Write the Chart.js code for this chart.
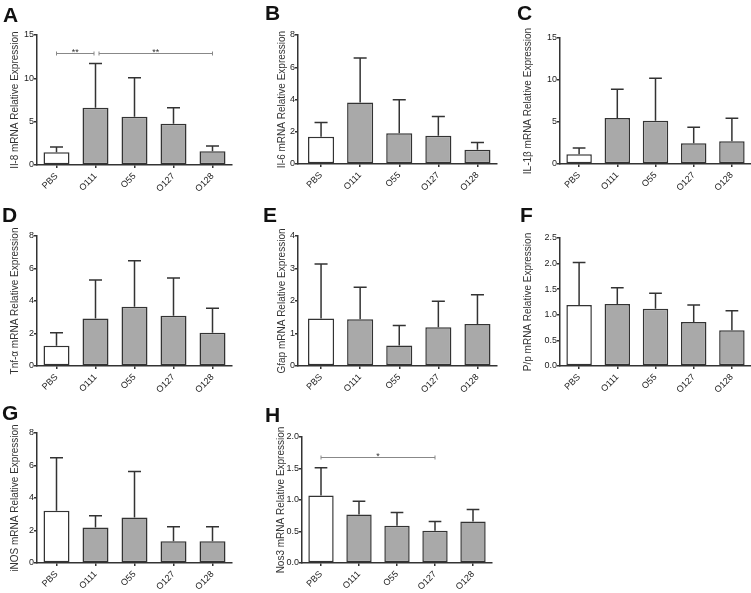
<!DOCTYPE html>
<html>
<head>
<meta charset="utf-8">
<script src="https://cdn.jsdelivr.net/npm/chart.js@4/dist/chart.umd.min.js"></script>
<style>
  body { margin: 0; width: 751px; height: 593px; background: #fff; position: relative; overflow: hidden; }
  canvas { position: absolute; }
  .letter { position: absolute; font: bold 21px "Liberation Sans", Arial, sans-serif; line-height: 21px; color: #111; }
</style>
</head>
<body>
<div id="wrap"></div>
<script>
// groups on the x axis
const groups = ['PBS', 'O111', 'O55', 'O127', 'O128'];

// mean and SD for each gene
const il8Mean = [1.46, 6.6, 5.58, 4.77, 1.6];
const il8Sd = [0.62, 5.1, 4.5, 1.83, 0.6];
const il6Mean = [1.69, 3.81, 1.9, 1.75, 0.89];
const il6Sd = [0.89, 2.77, 2.08, 1.2, 0.45];
const il1bMean = [1.15, 5.48, 5.16, 2.46, 2.7];
const il1bSd = [0.75, 3.42, 5.04, 1.91, 2.74];
const tnfMean = [1.25, 2.93, 3.65, 3.1, 2.05];
const tnfSd = [0.8, 2.36, 2.83, 2.32, 1.5];
const gfapMean = [1.46, 1.44, 0.63, 1.19, 1.29];
const gfapSd = [1.68, 0.98, 0.62, 0.8, 0.9];
const plpMean = [1.19, 1.21, 1.12, 0.86, 0.7];
const plpSd = [0.83, 0.32, 0.3, 0.33, 0.38];
const inosMean = [3.22, 2.19, 2.8, 1.34, 1.34];
const inosSd = [3.25, 0.72, 2.83, 0.89, 0.89];
const nos3Mean = [1.07, 0.77, 0.59, 0.51, 0.66];
const nos3Sd = [0.44, 0.21, 0.21, 0.15, 0.19];

// significance brackets: group index pairs, height, stars
const il8Sig = [[0, 1, 12.9, '**'], [1, 4, 12.9, '**']];
const nos3Sig = [[0, 3, 1.68, '*']];

Chart.defaults.font.family = '"Liberation Sans", Arial, sans-serif';
Chart.defaults.font.size = 9;

// panel layout (page pixels)
const panels = [
  { letter: 'A', lx: 3, ly: 4, left: 0, top: 0, w: 250, h: 200, titleX: 15, axisX: 37, plotTop: 35, plotBottom: 165, plotRight: 232, gap: 0,
    max: 15, step: 5, dec: 0, title: 'Il-8 mRNA Relative Expression', mean: il8Mean, sd: il8Sd, sig: il8Sig },
  { letter: 'B', lx: 265, ly: 2, left: 250, top: 0, w: 250, h: 200, titleX: 282, axisX: 298, plotTop: 35, plotBottom: 164, plotRight: 497, gap: 3.5,
    max: 8, step: 2, dec: 0, title: 'Il-6 mRNA Relative Expression', mean: il6Mean, sd: il6Sd, sig: [] },
  { letter: 'C', lx: 517, ly: 2, left: 500, top: 0, w: 251, h: 200, titleX: 528, axisX: 560, plotTop: 38, plotBottom: 164, plotRight: 751, gap: 0,
    max: 15, step: 5, dec: 0, title: 'IL-1β mRNA Relative Expression', mean: il1bMean, sd: il1bSd, sig: [] },
  { letter: 'D', lx: 2, ly: 204, left: 0, top: 195, w: 250, h: 200, titleX: 15, axisX: 37, plotTop: 236, plotBottom: 366, plotRight: 232, gap: 0,
    max: 8, step: 2, dec: 0, title: 'Tnf-α mRNA Relative Expression', mean: tnfMean, sd: tnfSd, sig: [] },
  { letter: 'E', lx: 263, ly: 204, left: 250, top: 195, w: 250, h: 200, titleX: 282, axisX: 298, plotTop: 236, plotBottom: 366, plotRight: 497, gap: 3.5,
    max: 4, step: 1, dec: 0, title: 'Gfap mRNA Relative Expression', mean: gfapMean, sd: gfapSd, sig: [] },
  { letter: 'F', lx: 520, ly: 204, left: 500, top: 195, w: 251, h: 200, titleX: 528, axisX: 560, plotTop: 238, plotBottom: 366, plotRight: 751, gap: 0,
    max: 2.5, step: 0.5, dec: 1, title: 'P/p mRNA Relative Expression', mean: plpMean, sd: plpSd, sig: [] },
  { letter: 'G', lx: 2, ly: 402, left: 0, top: 390, w: 250, h: 203, titleX: 15, axisX: 37, plotTop: 433, plotBottom: 563, plotRight: 232, gap: 0,
    max: 8, step: 2, dec: 0, title: 'iNOS mRNA Relative Expression', mean: inosMean, sd: inosSd, sig: [] },
  { letter: 'H', lx: 265, ly: 404, left: 250, top: 390, w: 250, h: 203, titleX: 281, axisX: 302, plotTop: 437, plotBottom: 563, plotRight: 492, gap: 0,
    max: 2, step: 0.5, dec: 1, title: 'Nos3 mRNA Relative Expression', mean: nos3Mean, sd: nos3Sd, sig: nos3Sig }
];

const ink = '#333';

function errorPlugin(p) {
  return {
    id: 'err' + p.letter,
    afterDatasetsDraw(chart) {
      const ctx = chart.ctx;
      const xs = chart.scales.x, ys = chart.scales.y;
      const bars = chart.getDatasetMeta(0).data;
      ctx.save();
      ctx.strokeStyle = ink;
      ctx.lineWidth = 1.5;
      bars.forEach((el, i) => {
        const yTop = ys.getPixelForValue(p.mean[i] + p.sd[i]);
        const half = el.width / 4;
        ctx.beginPath();
        ctx.moveTo(el.x, el.y);
        ctx.lineTo(el.x, yTop);
        ctx.moveTo(el.x - half, yTop);
        ctx.lineTo(el.x + half, yTop);
        ctx.stroke();
      });
      // significance brackets
      p.sig.forEach((s, k) => {
        const shared = (idx) => p.sig.some((o, j) => j !== k && (o[0] === idx || o[1] === idx));
        let x1 = xs.getPixelForValue(s[0]);
        let x2 = xs.getPixelForValue(s[1]);
        if (shared(s[0])) x1 += 3.5;
        if (shared(s[1])) x2 -= 1.5;
        const y = Math.round(ys.getPixelForValue(s[2])) + 0.5;
        ctx.strokeStyle = '#888';
        ctx.lineWidth = 1;
        ctx.beginPath();
        ctx.moveTo(x1, y); ctx.lineTo(x2, y);
        ctx.moveTo(x1, y - 2); ctx.lineTo(x1, y + 2);
        ctx.moveTo(x2, y - 2); ctx.lineTo(x2, y + 2);
        ctx.stroke();
        ctx.fillStyle = ink;
        ctx.font = '9px "Liberation Sans", Arial, sans-serif';
        ctx.textAlign = 'center';
        ctx.textBaseline = 'alphabetic';
        ctx.fillText(s[3], (x1 + x2) / 2, y + 1.5);
      });
      ctx.restore();
    }
  };
}

const wrap = document.getElementById('wrap');
panels.forEach(p => {
  const lab = document.createElement('div');
  lab.className = 'letter';
  lab.style.left = p.lx + 'px';
  lab.style.top = p.ly + 'px';
  lab.textContent = p.letter;
  document.body.appendChild(lab);

  const cv = document.createElement('canvas');
  cv.width = p.w; cv.height = p.h;
  cv.style.left = p.left + 'px'; cv.style.top = p.top + 'px';
  cv.style.width = p.w + 'px'; cv.style.height = p.h + 'px';
  wrap.appendChild(cv);

  const padLeft = p.titleX - 10 - p.left;
  const span = p.plotRight - p.axisX;
  const gapUnits = p.gap * groups.length / (span - p.gap);

  new Chart(cv, {
    type: 'bar',
    data: {
      datasets: [{
        data: p.mean.map((v, i) => ({ x: i, y: v })),
        backgroundColor: groups.map((g, i) => i === 0 ? '#ffffff' : '#a9a9a9'),
        borderColor: ink,
        borderWidth: 1.5,
        borderSkipped: false,
        barPercentage: 0.667,
        categoryPercentage: 1
      }]
    },
    options: {
      responsive: false,
      animation: false,
      devicePixelRatio: 1,
      layout: { padding: { left: padLeft, top: p.plotTop - p.top, right: p.left + p.w - p.plotRight, bottom: 0 } },
      plugins: { legend: { display: false }, tooltip: { enabled: false } },
      scales: {
        x: {
          type: 'linear',
          offset: false,
          bounds: 'data',
          min: -0.5 - gapUnits,
          max: groups.length - 0.5,
          afterBuildTicks: s => { s.ticks = groups.map((g, i) => ({ value: i })); },
          afterFit: s => { s.height = p.top + p.h - p.plotBottom; },
          ticks: {
            autoSkip: false, minRotation: 45, maxRotation: 45, padding: 3, color: '#222',
            callback: v => groups[v]
          },
          grid: { display: true, offset: false, drawOnChartArea: false, drawTicks: true, tickLength: 3, color: ink, lineWidth: 1.5 },
          border: { color: ink, width: 1.5 }
        },
        y: {
          min: 0,
          max: p.max,
          afterFit: s => { s.width = p.axisX - p.left - padLeft; },
          ticks: { stepSize: p.step, padding: 0, color: '#222', callback: v => v.toFixed(p.dec) },
          grid: { display: true, drawOnChartArea: false, drawTicks: true, tickLength: 3, color: ink, lineWidth: 1.5 },
          border: { color: ink, width: 1.5 },
          title: { display: true, text: p.title, color: '#333', font: { size: 10 }, padding: { top: 4, bottom: 4 } }
        }
      }
    },
    plugins: [errorPlugin(p)]
  });
});
</script>
</body>
</html>
